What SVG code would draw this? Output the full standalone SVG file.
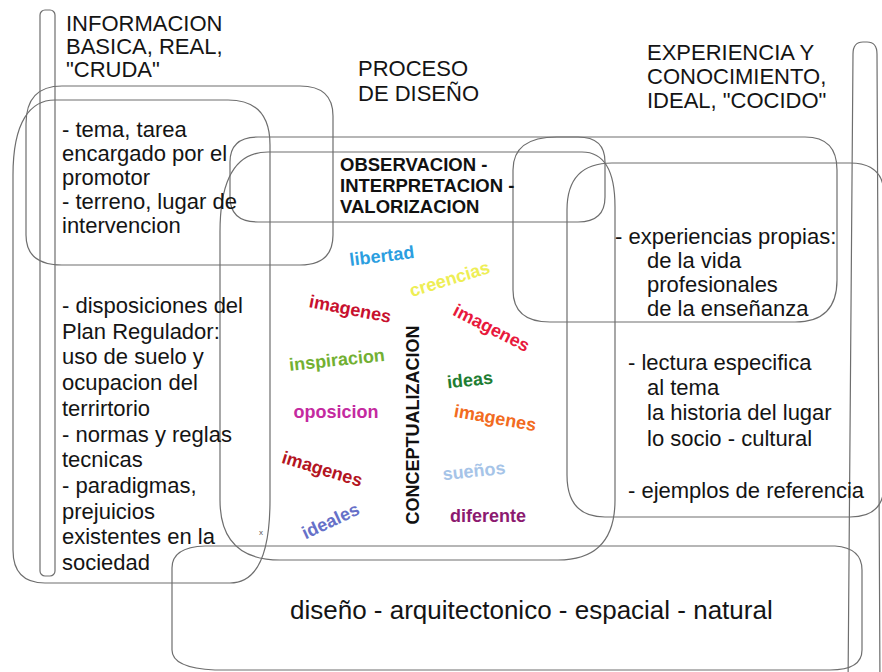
<svg xmlns="http://www.w3.org/2000/svg" width="882" height="672" viewBox="0 0 882 672">
<style>
.s{fill:none;stroke:#6e6e6e;stroke-width:1.2}
.t{font-family:"Liberation Sans",Arial,sans-serif;font-size:22px;fill:#141414}
.b{font-family:"Liberation Sans",Arial,sans-serif;font-size:18.5px;font-weight:bold;fill:#111}
.w{font-family:"Liberation Sans",Arial,sans-serif;font-size:18px;font-weight:bold;text-anchor:middle}
</style>
<rect width="882" height="672" fill="#fff"/>
<g id="shapes">
<g id="left-bar"><rect class="s" x="40" y="10" width="15" height="566" rx="5"/></g>
<g id="right-bar"><path class="s" d="M853,54 Q853,42 863,42 L867,42 Q877,42 877,54 L880,690 M853,54 L848,690"/></g>
<g id="box-tema"><path class="s" d="M62,86 L300,86 Q333,86 333,116 L333,235 Q333,265 300,265 L62,265 Q26,265 26,235 L26,124 Q26,86 62,86 Z"/></g>
<g id="box-plan"><path class="s" d="M55,100 L228,100 Q270,100 270,145 L270,500 Q270,583 230,583 L45,583 Q13,583 13,550 L13,175 C13,122 30,100 55,100 Z"/></g>
<g id="box-proceso"><path class="s" d="M268,152 L582,152 Q615,152 615,207 L615,500 Q615,560 558,560 L280,560 Q220,560 220,500 L220,232 Q220,152 268,152 Z"/></g>
<g id="box-observacion"><path class="s" d="M258,137 L578,137 Q605,137 605,162 L605,197 Q605,222 578,222 L258,222 Q230,222 230,197 L230,162 Q230,137 258,137 Z"/></g>
<g id="box-experiencias"><path class="s" d="M557,137 L805,137 Q837,137 837,170 L837,280 Q837,322 795,322 L550,322 Q513,322 513,290 L513,170 Q513,137 557,137 Z"/></g>
<g id="box-lectura"><path class="s" d="M612,163 L850,163 Q884,163 884,195 L884,485 Q884,517 850,517 L605,517 Q567,517 567,475 L567,210 Q567,163 612,163 Z"/></g>
<g id="box-diseno"><path class="s" d="M205,546 L835,546 Q862,548 862,570 L862,650 Q862,670 830,670 L215,670 Q172,668 172,650 L172,568 Q172,547 205,546 Z"/></g>
</g>
<g id="connectors"></g>
<g id="text-left">
<text class="t" x="66" y="31">INFORMACION</text>
<text class="t" x="66" y="54">BASICA, REAL,</text>
<text class="t" x="66" y="77">"CRUDA"</text>
<text class="t" x="62" y="137">- tema, tarea</text>
<text class="t" x="62" y="161">encargado por el</text>
<text class="t" x="62" y="185">promotor</text>
<text class="t" x="62" y="209">- terreno, lugar de</text>
<text class="t" x="62" y="233">intervencion</text>
<text class="t" x="62" y="313">- disposiciones del</text>
<text class="t" x="62" y="338.7">Plan Regulador:</text>
<text class="t" x="62" y="364.4">uso de suelo y</text>
<text class="t" x="62" y="390.1">ocupacion del</text>
<text class="t" x="62" y="415.8">terrirtorio</text>
<text class="t" x="62" y="441.5">- normas y reglas</text>
<text class="t" x="62" y="467.2">tecnicas</text>
<text class="t" x="62" y="492.9">- paradigmas,</text>
<text class="t" x="62" y="518.6">prejuicios</text>
<text class="t" x="62" y="544.3">existentes en la</text>
<text class="t" x="62" y="570">sociedad</text>
<text x="259" y="535" style="font-family:'Liberation Sans',Arial,sans-serif;font-size:8px;fill:#555">x</text>
</g>
<g id="text-center">
<text class="t" x="358" y="76">PROCESO</text>
<text class="t" x="358" y="101">DE DISEÑO</text>
<text class="b" x="340" y="171">OBSERVACION -</text>
<text class="b" x="340" y="192">INTERPRETACION -</text>
<text class="b" x="340" y="213">VALORIZACION</text>
<text class="w" fill="#111" transform="translate(412.5,425) rotate(-90)" y="6.5">CONCEPTUALIZACION</text>
<text class="w" fill="#2b9ee0" transform="translate(382,257) rotate(-7)" y="5">libertad</text>
<text class="w" fill="#eeee55" transform="translate(450,280) rotate(-17)" y="5">creencias</text>
<text class="w" fill="#c8102e" transform="translate(350,310) rotate(11)" y="5">imagenes</text>
<text class="w" fill="#e8193c" transform="translate(491,329) rotate(27)" y="5">imagenes</text>
<text class="w" fill="#72b032" transform="translate(337,361) rotate(-6)" y="5">inspiracion</text>
<text class="w" fill="#1e7d32" transform="translate(470,381) rotate(-6)" y="5">ideas</text>
<text class="w" fill="#c42aa0" transform="translate(336,413)" y="5">oposicion</text>
<text class="w" fill="#f26b21" transform="translate(495,419) rotate(10)" y="5">imagenes</text>
<text class="w" fill="#b41422" transform="translate(322,470) rotate(17)" y="5">imagenes</text>
<text class="w" fill="#a6c4e8" transform="translate(474,472) rotate(-6)" y="5">sueños</text>
<text class="w" fill="#6670c8" transform="translate(331,522) rotate(-25)" y="5">ideales</text>
<text class="w" fill="#8c1a70" transform="translate(488,517)" y="5">diferente</text>
</g>
<g id="text-right">
<text class="t" x="647" y="60">EXPERIENCIA Y</text>
<text class="t" x="647" y="84">CONOCIMIENTO,</text>
<text class="t" x="647" y="108">IDEAL, "COCIDO"</text>
<text class="t" x="615" y="244">- experiencias propias:</text>
<text class="t" x="647" y="268">de la vida</text>
<text class="t" x="647" y="292">profesionales</text>
<text class="t" x="647" y="316">de la enseñanza</text>
<text class="t" x="628" y="370">- lectura especifica</text>
<text class="t" x="647" y="395">al tema</text>
<text class="t" x="647" y="420">la historia del lugar</text>
<text class="t" x="647" y="446">lo socio - cultural</text>
<text class="t" x="628" y="498">- ejemplos de referencia</text>
</g>
<g id="text-bottom">
<text class="t" x="290" y="619" style="font-size:26px">diseño - arquitectonico - espacial - natural</text>
</g>
</svg>
